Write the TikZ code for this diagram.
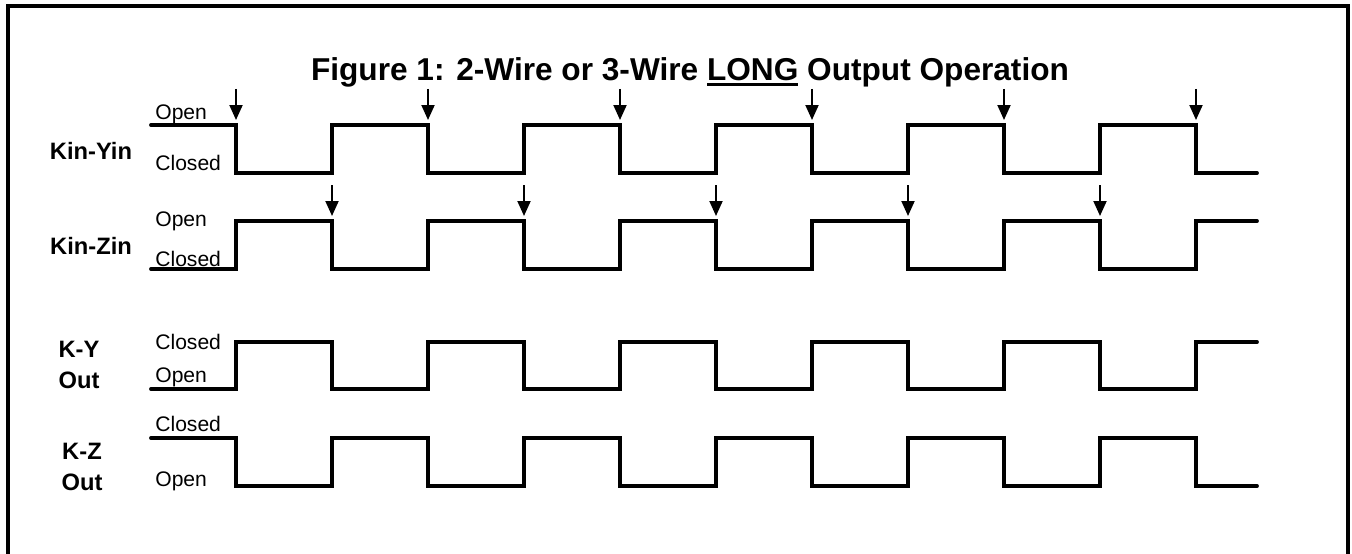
\documentclass[tikz,border=0pt]{standalone}
\usepackage{fontspec}
\setmainfont{Liberation Sans}
\usepackage{tikz}
\usetikzlibrary{arrows.meta,positioning}
\definecolor{ink}{HTML}{000000}
\newsavebox{\ulbox}
\newcommand{\thickul}[1]{\sbox{\ulbox}{#1}\rlap{\rule[-0.16em]{\wd\ulbox}{0.09em}}\usebox{\ulbox}}
\tikzset{
  framebox/.style={draw=ink,line width=2.2pt},
  sigline/.style={draw=ink,line width=2.2pt,line cap=round,line join=miter},
  trigarr/.style={-{Triangle[width=0.26cm,length=0.3cm]},line width=1.1pt,color=ink},
  titlelabel/.style={font=\bfseries\fontsize{18}{22}\selectfont,text=ink,inner sep=0pt},
  siglabel/.style={font=\bfseries\fontsize{13.5}{17.5}\selectfont,text=ink,align=center,inner sep=0pt},
  lvllabel/.style={font=\fontsize{12}{14}\selectfont,text=ink,anchor=base west,inner sep=0pt},
}

\begin{document}
\begin{tikzpicture}[x=0.02cm,y=-0.02cm]
  \useasboundingbox (0,0) rectangle (1352,554);
  \draw[framebox] (8,554) -- (8,6) -- (1348,6) -- (1348,554);
  \node[titlelabel,anchor=base] (title) at (690,81)
    {Figure 1: 2-Wire or 3-Wire \thickul{LONG} Output Operation};
  % signal names
  \node[siglabel] (kinyin) at (91,151) {Kin-Yin};
  \node[siglabel] (kinzin) at (91,246) {Kin-Zin};
  \node[siglabel] (kyout) at (79,365) {K-Y\\Out};
  \node[siglabel] (kzout) at (82,467) {K-Z\\Out};
  % level names
  \node[lvllabel] (yopen) at (155,119) {Open};
  \node[lvllabel] (yclosed) at (155,171) {Closed};
  \node[lvllabel] (zopen) at (155,226) {Open};
  \node[lvllabel] (zclosed) at (155,266) {Closed};
  \node[lvllabel] (kyclosed) at (155,349) {Closed};
  \node[lvllabel] (kyopen) at (155,382) {Open};
  \node[lvllabel] (kzclosed) at (155,431) {Closed};
  \node[lvllabel] (kzopen) at (155,486) {Open};
  % waveforms
  \draw[sigline] (151,125) \foreach \t in {236,428,...,1004} { -| (\t,173) -| (\t+96,125) } -| (1196,173) -- (1257,173);
  \draw[sigline] (151,269) \foreach \t in {236,428,...,1004} { -| (\t,221) -| (\t+96,269) } -| (1196,221) -- (1257,221);
  \draw[sigline] (151,389) \foreach \t in {236,428,...,1004} { -| (\t,342) -| (\t+96,389) } -| (1196,342) -- (1257,342);
  \draw[sigline] (151,438) \foreach \t in {236,428,...,1004} { -| (\t,486) -| (\t+96,438) } -| (1196,486) -- (1257,486);
  % input edges
  \foreach \t in {236,428,...,1196} \draw[trigarr] (\t,89) -- (\t,120);
  \foreach \t in {332,524,...,1100} \draw[trigarr] (\t,185) -- (\t,216);
\end{tikzpicture}
\end{document}
